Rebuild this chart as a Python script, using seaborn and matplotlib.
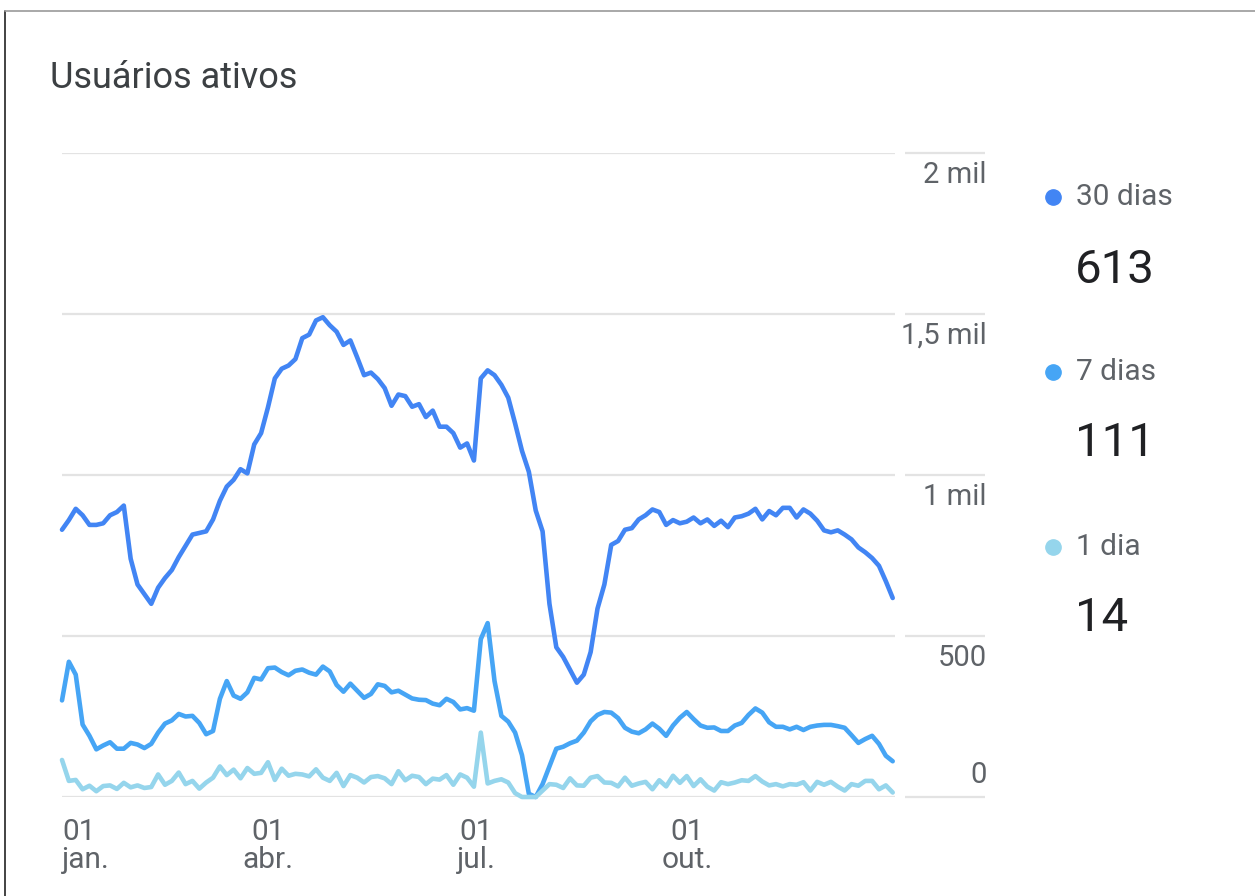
import matplotlib.pyplot as plt
from matplotlib.lines import Line2D
import pandas as pd
import seaborn as sns

# series / legend
series_names = ["30 dias", "7 dias", "1 dia"]
last_values = ["613", "111", "14"]
colors = ["#4285F4", "#46A5F5", "#95D5EC"]

ytick_values = [0, 500, 1000, 1500, 2000]
ytick_labels = ["0", "500", "1 mil", "1,5 mil", "2 mil"]
xtick_dates = ["2022-01-01", "2022-04-01", "2022-07-01", "2022-10-01"]
xtick_labels = ["01\njan.", "01\nabr.", "01\njul.", "01\nout."]

# one point every 3 days
days = pd.date_range("2022-01-01", periods=122, freq="3D")

users_30 = [
    830, 860, 895, 875, 845, 845, 850, 875, 885, 905,
    740, 660, 630, 600, 650, 680, 705, 745, 780, 815,
    820, 825, 862, 920, 964, 985, 1018, 1005, 1095, 1130,
    1210, 1300, 1330, 1340, 1360, 1425, 1436, 1480, 1490, 1465,
    1445, 1404, 1418, 1365, 1310, 1318, 1298, 1270, 1215, 1250,
    1245, 1212, 1220, 1180, 1200, 1150, 1150, 1130, 1085, 1098,
    1045, 1300, 1325, 1310, 1280, 1240, 1160, 1075, 1010, 890,
    825, 600, 465, 435, 395, 355, 380, 450, 585, 660,
    783, 795, 830, 835, 862, 875, 893, 885, 845, 860,
    850, 855, 868, 850, 862, 842, 858, 838, 868, 872,
    880, 895, 862, 888, 875, 898, 898, 868, 893, 880,
    858, 828, 822, 828, 815, 800, 775, 760, 742, 718,
    670, 618,
]

users_7 = [
    300, 420, 380, 225, 190, 148, 160, 170, 150, 150,
    168, 163, 152, 165, 200, 228, 238, 258, 250, 252,
    230, 195, 205, 305, 360, 315, 305, 325, 370, 365,
    400, 402, 388, 378, 392, 396, 386, 380, 405, 390,
    348, 327, 352, 330, 308, 320, 350, 345, 325, 330,
    318, 306, 302, 301, 290, 285, 305, 295, 272, 276,
    268, 490, 540, 360, 252, 234, 200, 130, 10, 0,
    40, 95, 150, 156, 167, 175, 200, 235, 255, 264,
    262, 245, 215, 203, 198, 210, 228, 212, 190, 222,
    246, 264, 242, 222, 215, 216, 205, 205, 222, 230,
    255, 275, 262, 232, 218, 218, 210, 218, 208, 218,
    222, 224, 224, 220, 215, 192, 168, 180, 190, 165,
    128, 111,
]

users_1 = [
    115, 50, 53, 24, 35, 18, 34, 36, 25, 44,
    30, 36, 28, 31, 70, 38, 50, 76, 40, 50,
    26, 45, 60, 95, 68, 85, 58, 90, 72, 75,
    108, 53, 88, 66, 72, 70, 64, 86, 60, 50,
    75, 34, 68, 60, 45, 62, 65, 58, 40, 80,
    52, 66, 62, 40, 57, 54, 68, 38, 70, 60,
    32, 200, 42, 50, 55, 45, 12, 0, 0, 0,
    20, 40, 38, 28, 58, 36, 35, 60, 65, 45,
    44, 33, 60, 35, 42, 47, 24, 52, 33, 66,
    44, 65, 34, 55, 32, 20, 46, 40, 45, 52,
    50, 65, 48, 36, 40, 33, 40, 38, 46, 20,
    47, 38, 47, 32, 20, 40, 35, 50, 50, 24,
    36, 14,
]

df = pd.DataFrame({
    "data": list(days) * 3,
    "usuarios": users_30 + users_7 + users_1,
    "serie": [n for n in series_names for _ in days],
})

sns.set_style("white")
plt.rcParams["font.family"] = ["Roboto", "DejaVu Sans"]

W, H = 1255, 896
fig = plt.figure(figsize=(W / 100, H / 100), dpi=100)
ax = fig.add_axes([62 / W, 99 / H, 833 / W, 644 / H])

grid_col = "#e3e3e3"
text_col = "#5f6368"

ax = sns.lineplot(
    data=df,
    x="data",
    y="usuarios",
    hue="serie",
    hue_order=series_names,
    palette=dict(zip(series_names, colors)),
    linewidth=3.3,
    legend=False,
    ax=ax,
)
for ln in ax.lines:
    ln.set_clip_on(False)
    ln.set_solid_joinstyle("round")

ax.set_xlim(pd.Timestamp("2022-01-01"), pd.Timestamp("2022-12-31"))
ax.set_ylim(0, 2000)
ax.set(xlabel="", ylabel="")
for s in ax.spines.values():
    s.set_visible(False)

# y grid, plus the short pieces under the labels
ax.set_yticks(ytick_values)
ax.tick_params(axis="y", length=0, labelleft=False)
ax.yaxis.grid(True, color=grid_col, lw=1.6)
ax.set_axisbelow(True)
ax.hlines(ytick_values, 1.012, 1.108, transform=ax.get_yaxis_transform(),
          colors=grid_col, lw=1.6, clip_on=False)
for v, lab in zip(ytick_values, ytick_labels):
    off = 68 if v == 0 else -68
    ax.text(1.110, v + off, lab, transform=ax.get_yaxis_transform(),
            ha="right", va="center", fontsize=21, color=text_col)

# x ticks
ax.set_xticks(pd.to_datetime(xtick_dates))
ax.set_xticklabels(xtick_labels)
ax.tick_params(axis="x", length=11, width=1.2, color="#dadce0", pad=4,
               labelsize=21.5, labelcolor=text_col)
for t in ax.get_xticklabels():
    t.set_linespacing(1.0)
ax.get_xticklabels()[0].set_horizontalalignment("left")

# title
fig.text(50 / W, 1 - 88 / H, "Usuários ativos", fontsize=26, color="#3c4043",
         ha="left", va="baseline")

# legend on the right
label_y = [197, 372, 547]
value_y = [270, 443, 618]
for name, val, col, ly, vy in zip(series_names, last_values, colors, label_y, value_y):
    fig.add_artist(Line2D([1053 / W], [1 - ly / H], marker="o", ms=11, color=col,
                          transform=fig.transFigure))
    fig.text(1076 / W, 1 - ly / H, name, fontsize=21.5, color=text_col,
             ha="left", va="center")
    fig.text(1075 / W, 1 - vy / H, val, fontsize=34, color="#202124",
             ha="left", va="center")

# screenshot frame
fig.add_artist(Line2D([5 / W, 5 / W], [0, 1 - 11 / H], color="#222222", lw=1.2,
                      transform=fig.transFigure))
fig.add_artist(Line2D([5 / W, 1], [1 - 11 / H, 1 - 11 / H], color="#9a9a9a", lw=1.2,
                      transform=fig.transFigure))

fig.savefig("out.png", dpi=100)
